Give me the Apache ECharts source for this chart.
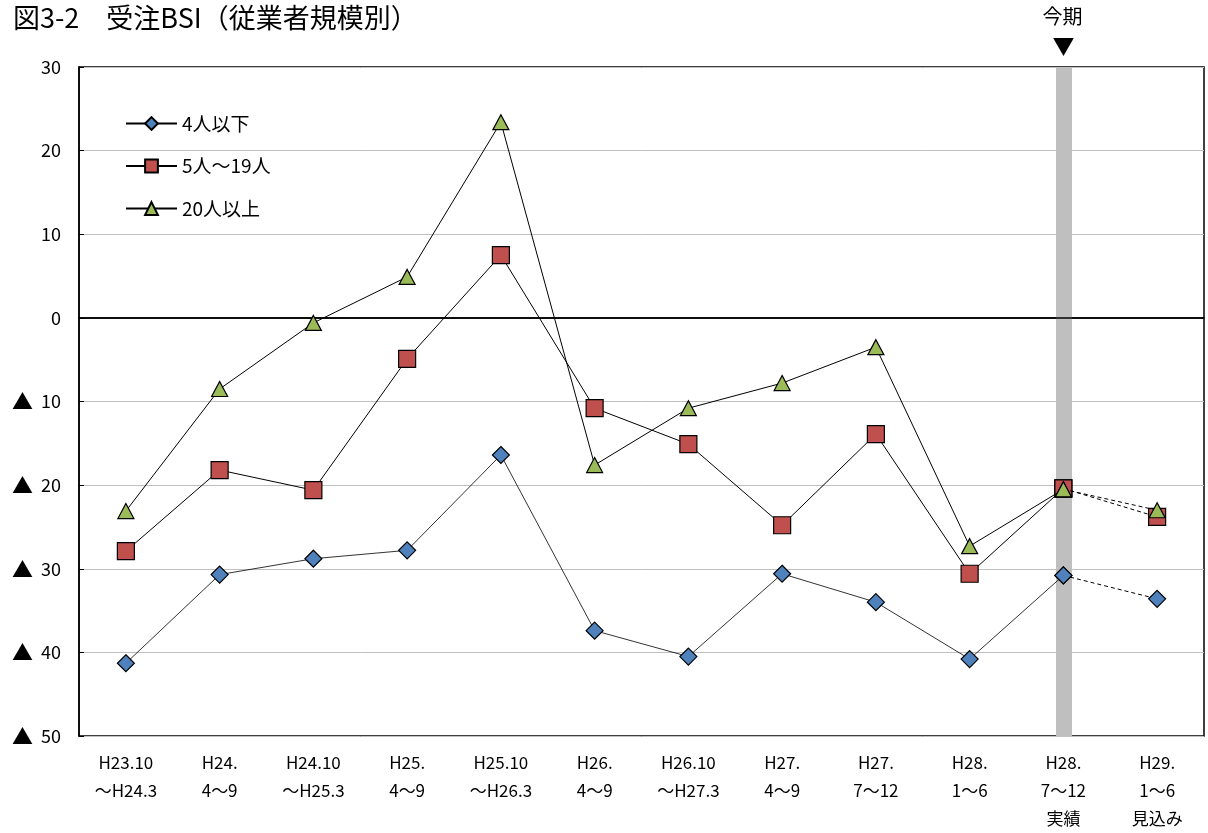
<!DOCTYPE html>
<html><head><meta charset="utf-8">
<script src="https://cdn.jsdelivr.net/npm/echarts@6/dist/echarts.min.js"></script>
<style>html,body{margin:0;padding:0;background:#fff;}#c{width:1208px;height:833px;}</style>
</head><body><div id="c"></div>
<script>
const categories = ['H23.10\n～H24.3','H24.\n4～9','H24.10\n～H25.3','H25.\n4～9','H25.10\n～H26.3','H26.\n4～9','H26.10\n～H27.3','H27.\n4～9','H27.\n7～12','H28.\n1～6','H28.\n7～12\n実績','H29.\n1～6\n見込み'];
const seriesNames = ['4人以下','5人～19人','20人以上'];
const small = [-41.3,-30.7,-28.8,-27.8,-16.4,-37.4,-40.5,-30.6,-34.0,-40.8,-30.8,-33.6];
const medium = [-27.9,-18.2,-20.6,-4.9,7.5,-10.8,-15.1,-24.8,-13.9,-30.6,-20.4,-23.8];
const large = [-23.1,-8.5,-0.6,4.9,23.4,-17.6,-10.8,-7.8,-3.5,-27.3,-20.5,-23.0];
const yTicks = {min:-50,max:30,interval:10};
const currentIndex = 10;

const FONT = '"Noto Sans CJK JP","Noto Sans",sans-serif';
const colors = ['#4f81bd','#c0504d','#9bbb59'];
const symbols = ['diamond','rect','triangle'];
const sizes = [[17,17],[17,17],[16,15]];
const widths = [0.8,1,1];
const datas = [small, medium, large];

const chart = echarts.init(document.getElementById('c'), null, {renderer:'canvas'});
const series = [];
series.push({
  name:'band', type:'line', data:[], z:1, silent:true,
  markLine:{silent:true, z:1, symbol:'none', label:{show:false},
    lineStyle:{color:'#bfbfbf', width:16, type:'solid'},
    data:[{xAxis: currentIndex}]}
});
series.push({
  name:'zero', type:'line', data:[], z:2, silent:true,
  markLine:{silent:true, z:2, symbol:'none', label:{show:false},
    lineStyle:{color:'#000', width:1.5, type:'solid'}, data:[{yAxis:0}]}
});
datas.forEach((d,i)=>{
  const solid = d.map((v,k)=> k<=currentIndex ? v : null);
  const dashed = d.map((v,k)=> k>=currentIndex ? v : null);
  series.push({
    name: seriesNames[i]+'_d', type:'line', data: dashed, z: 3+i,
    symbol: symbols[i], symbolSize: sizes[i],
    itemStyle:{color: colors[i], borderColor:'#000', borderWidth:1.2},
    lineStyle:{color:'#000', width: 1, type:[4,3]},
    emphasis:{disabled:true}
  });
  series.push({
    name: seriesNames[i], type:'line', data: solid, z: 3+i,
    symbol: symbols[i], symbolSize: sizes[i],
    itemStyle:{color: colors[i], borderColor:'#000', borderWidth:1.2},
    lineStyle:{color:'#000', width: widths[i]},
    emphasis:{disabled:true}
  });
});

chart.setOption({
  animation:false,
  backgroundColor:'#fff',
  title:{text:'図3-2　受注BSI（従業者規模別）', left:8, top:-1,
    textStyle:{fontFamily:FONT, fontSize:27, fontWeight:'normal', color:'#000'}},
  legend:{
    data: seriesNames, orient:'vertical', left:125, top:114, itemGap:23.5, padding:0,
    itemWidth:51, itemHeight:16,
    textStyle:{fontFamily:FONT, fontSize:19, lineHeight:16, color:'#000'}
  },
  grid:{left:79, right:4, top:67, bottom:97, show:true, borderColor:'#000', borderWidth:1.5, containLabel:false},
  xAxis:{
    type:'category', data: categories, boundaryGap:true,
    axisLine:{lineStyle:{color:'#000', width:1.5}},
    axisTick:{show:false},
    axisLabel:{fontFamily:FONT, fontSize:17, color:'#000', lineHeight:28, margin:13, interval:0}
  },
  yAxis:{
    type:'value', min:yTicks.min, max:yTicks.max, interval:yTicks.interval,
    axisLine:{show:true, lineStyle:{color:'#000', width:1.5}},
    axisTick:{show:true, inside:true, length:5, lineStyle:{color:'#000'}},
    splitLine:{lineStyle:{color:'#c0c0c0', width:1}},
    axisLabel:{fontFamily:FONT, fontSize:18, color:'#000', margin:18,
      formatter: v => v < 0 ? '{t|▲}  ' + (-v) : String(v),
      rich:{t:{fontFamily:FONT, fontSize:21, color:'#000'}}}
  },
  series: series
});

const px = chart.convertToPixel({xAxisIndex:0}, currentIndex);
chart.setOption({
  graphic:[
    {type:'text', left: px-21, top: 6, style:{text:'今期', font:'20px '+FONT, fill:'#000'}},
    {type:'text', left: px-11, top: 35, style:{text:'▼', font:'22px '+FONT, fill:'#000'}}
  ]
});
</script>
</body></html>
